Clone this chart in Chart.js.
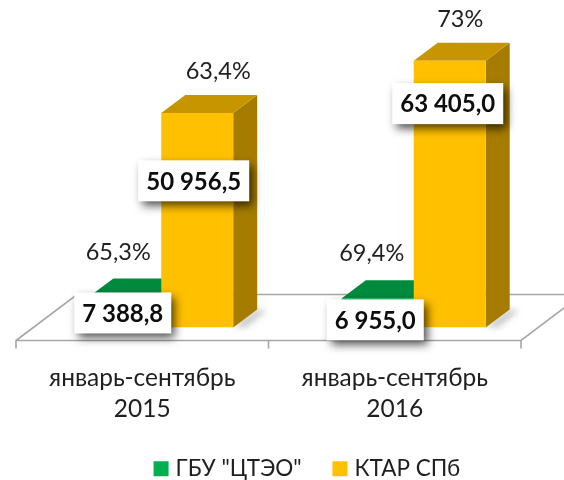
<!DOCTYPE html>
<html><head><meta charset="utf-8">
<style>html,body{margin:0;padding:0;background:#fff}#w{width:564px;height:480px;position:relative}</style>
<script src="https://cdn.jsdelivr.net/npm/chart.js@4"></script>
</head><body><div id="w"><canvas id="c" width="564" height="480"></canvas></div>
<script>
const categories = [['январь-сентябрь','2015'],['январь-сентябрь','2016']];
const seriesNames = ['ГБУ "ЦТЭО"','КТАР СПб'];
const ctaoValues = [7388.8, 6955.0];
const ktarValues = [50956.5, 63405.0];
const ctaoValueLabels = ['7 388,8','6 955,0'];
const ktarValueLabels = ['50 956,5','63 405,0'];
const ctaoPercents = ['65,3%','69,4%'];
const ktarPercents = ['63,4%','73%'];

const FONT = 'Lato, "Noto Sans", sans-serif';
const TEXT = '#1f1f1f';
const FACES = [
  {front:'#00B050', top:'#008A3E', side:'#006C30'},
  {front:'#FFC000', top:'#C69500', side:'#A67C00'}
];
const DEPTH = {x:24, y:18};
// hand-placed label offsets relative to the bar centre, as in the reference
const BOX_SHIFT = [[[-2.5,1],[-2.5,7]], [[-3.5,-39.5],[-2,-90.5]]];
const PCT_SHIFT = [[[-7,-44],[-6,-45]], [[21,-42],[10.5,-41.5]]];

const threeD = {
  id:'threeD',
  afterLayout(chart){ chart.legend.left+=21.5; chart.legend.right+=21.5; },
  beforeDatasetsDraw(chart){
    const {ctx, chartArea:a} = chart;
    const fl = a.left-19, fr = a.right-19, fy = a.bottom+13, by = fy-46, dx = 61;
    ctx.save();
    ctx.strokeStyle='#A6A6A6'; ctx.lineWidth=1.6;
    ctx.beginPath();
    ctx.moveTo(fl,fy+8); ctx.lineTo(fl,fy); ctx.lineTo(fl+dx,by); ctx.lineTo(564,by);
    ctx.moveTo(fl,fy); ctx.lineTo(fr,fy); ctx.lineTo(fr+dx,by);
    ctx.moveTo(fr,fy); ctx.lineTo(fr,fy+8);
    const mid=(fl+fr)/2; ctx.moveTo(mid,fy); ctx.lineTo(mid,fy+8);
    ctx.stroke();
    chart.getSortedVisibleDatasetMetas().forEach((m,ds)=>{
      m.data.forEach(el=>{
        const p = el.getProps(['x','y','base','width'],true);
        const l=p.x-p.width/2, r=p.x+p.width/2, t=p.y, b=p.base;
        if(ds===1){
          ctx.save();
          ctx.filter='blur(3px)';
          ctx.fillStyle='rgba(150,150,150,.55)';
          ctx.beginPath(); ctx.moveTo(r,b-1); ctx.lineTo(r+DEPTH.x,b-DEPTH.y); ctx.lineTo(r+DEPTH.x+9,b-DEPTH.y+1); ctx.lineTo(r+12,b); ctx.closePath(); ctx.fill();
          ctx.restore();
        }
        ctx.fillStyle=FACES[ds].side;
        ctx.beginPath(); ctx.moveTo(r,t); ctx.lineTo(r+DEPTH.x,t-DEPTH.y); ctx.lineTo(r+DEPTH.x,b-DEPTH.y); ctx.lineTo(r,b); ctx.closePath(); ctx.fill();
        ctx.fillStyle=FACES[ds].top;
        ctx.beginPath(); ctx.moveTo(l,t); ctx.lineTo(l+DEPTH.x,t-DEPTH.y); ctx.lineTo(r+DEPTH.x,t-DEPTH.y); ctx.lineTo(r,t); ctx.closePath(); ctx.fill();
      });
    });
    ctx.restore();
  },
  afterDatasetsDraw(chart){
    const {ctx} = chart;
    const boxes=[ctaoValueLabels,ktarValueLabels], pcts=[ctaoPercents,ktarPercents];
    ctx.save();
    ctx.textAlign='center'; ctx.textBaseline='middle';
    chart.getSortedVisibleDatasetMetas().forEach((m,ds)=>{
      m.data.forEach((el,i)=>{
        const p = el.getProps(['x','y','base'],true);
        const cx=p.x, cy=(p.y+p.base)/2;
        ctx.fillStyle=TEXT; ctx.font='23.5px '+FONT;
        ctx.fillText(pcts[ds][i], cx+PCT_SHIFT[ds][i][0], p.y+PCT_SHIFT[ds][i][1]);
        const bx=cx+BOX_SHIFT[ds][i][0], by=cy+BOX_SHIFT[ds][i][1];
        const w=ds===0?97:111, h=41;
        ctx.save();
        ctx.shadowColor='rgba(0,0,0,.7)'; ctx.shadowBlur=9; ctx.shadowOffsetX=4; ctx.shadowOffsetY=5;
        ctx.fillStyle='#fff'; ctx.fillRect(bx-w/2,by-h/2,w,h);
        ctx.restore();
        ctx.fillStyle='#0d0d0d'; ctx.font='bold 24px '+FONT;
        ctx.fillText(boxes[ds][i], bx, by+1);
      });
    });
    ctx.restore();
  }
};

new Chart(document.getElementById('c'),{
  type:'bar',
  data:{labels:categories,datasets:[
    {label:seriesNames[0],data:ctaoValues,backgroundColor:FACES[0].front},
    {label:seriesNames[1],data:ktarValues,backgroundColor:FACES[1].front}
  ]},
  plugins:[threeD],
  options:{
    responsive:false,animation:false,
    layout:{padding:{left:35,right:24,top:33,bottom:-10}},
    categoryPercentage:.57,barPercentage:1,
    scales:{
      x:{
        grid:{display:false},border:{display:false},
        afterFit(s){s.height=95;},
        ticks:{labelOffset:-19,padding:27,maxRotation:0,autoSkip:false,color:TEXT,font:{family:FONT,size:24.5,lineHeight:1.27}}
      },
      y:{display:false,min:0,max:70000}
    },
    plugins:{
      tooltip:{enabled:false},
      legend:{position:'bottom',labels:{
        color:TEXT,padding:35,boxWidth:6.5,boxHeight:6.5,font:{family:FONT,size:22.5},
        generateLabels(chart){
          return Chart.defaults.plugins.legend.labels.generateLabels(chart).map((it,i)=>({...it,fillStyle:FACES[i].front,strokeStyle:FACES[i].front,lineWidth:8.5,fontColor:TEXT}));
        }
      }}
    }
  }
});
</script></body></html>
